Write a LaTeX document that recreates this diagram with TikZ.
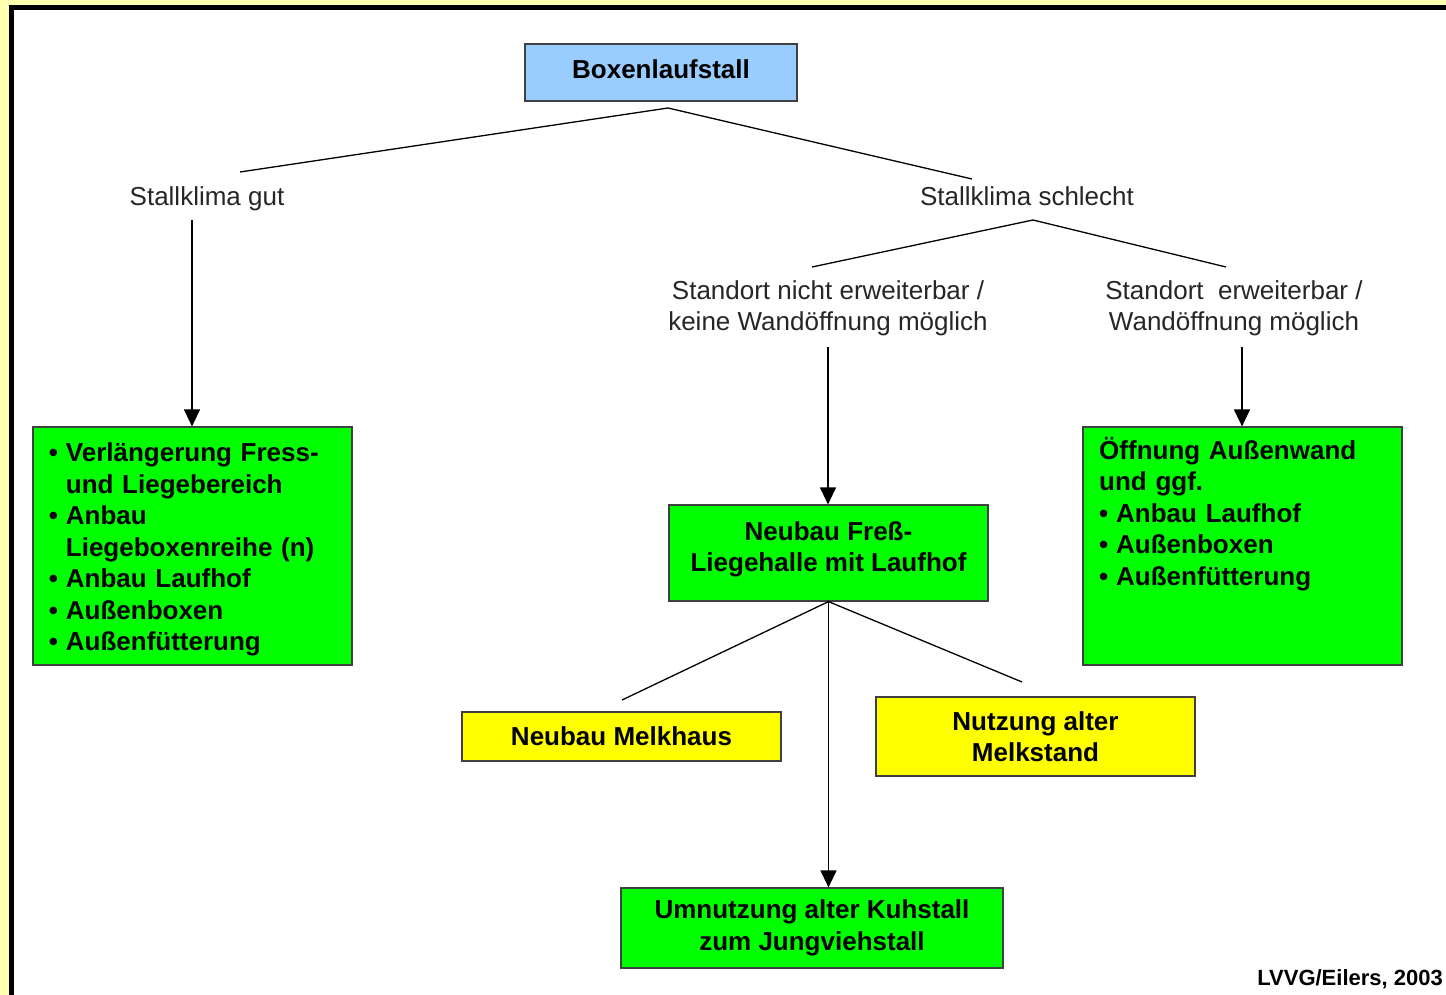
\documentclass[tikz,border=0pt]{standalone}
\usepackage{fontspec}
\setmainfont{Liberation Sans}
\usetikzlibrary{arrows.meta}
\definecolor{hellblau}{RGB}{153,204,255}
\definecolor{gruen}{RGB}{0,255,0}
\definecolor{gelb}{RGB}{255,255,0}
\definecolor{rand}{RGB}{255,255,178}
\newlength{\bulw}
\setlength{\bulw}{17pt}
\newcommand{\pkt}{\par\hangindent=\bulw\hangafter=1\noindent\makebox[\bulw][l]{\textbullet}}
\tikzset{
  box/.style={draw=black!75,line width=1.2pt,inner sep=0pt,align=center,font=\fontsize{26}{31.5}\selectfont\bfseries},
  lbl/.style={text=black!85,align=center,inner sep=0pt,font=\fontsize{26}{31.5}\selectfont},
  liste/.style={anchor=north west,inner sep=0pt,text width=300pt,align=left,font=\fontsize{26}{31.5}\selectfont\bfseries},
  pfeil/.style={-{Triangle[width=16pt,length=17pt]}},
  linie/.style={line width=1.3pt}
}
\begin{document}
\begin{tikzpicture}[x=1pt,y=-1pt]
\useasboundingbox (0,0) rectangle (1446,995);
\fill[rand] (0,0) rectangle (1446,995);
\begin{scope}
\clip (0,0) rectangle (1446,995);
\draw[line width=5pt,fill=white] (11.5,7.5) rectangle (1470,1020);
\end{scope}
\coordinate (boxJ) at (668,108);
\coordinate (gutE) at (240,172);
\coordinate (schlE) at (972,179);
\coordinate (schlJ) at (1033,220);
\coordinate (nichtE) at (812,267);
\coordinate (erwE) at (1226,267);
\coordinate (gutA) at (192,220);
\coordinate (nichtA) at (828,347);
\coordinate (erwA) at (1242,347);
\coordinate (melkE) at (622,700);
\coordinate (altE) at (1022,682);
\node[box,fill=hellblau,minimum width=272pt,minimum height=57pt,text depth=6pt] (laufstall) at (661,72.5) {Boxenlaufstall};
\node[lbl] (gutlbl) at (207,199) {Stallklima gut};
\node[lbl] (schlbl) at (1027,196) {Stallklima schlecht};
\node[lbl] (nichtlbl) at (828,308.5) {Standort nicht erweiterbar /\\keine Wandöffnung möglich};
\node[lbl] (erwlbl) at (1234,308.5) {Standort\ \ erweiterbar /\\Wandöffnung möglich};
\node[box,fill=gruen,minimum width=319pt,minimum height=238pt] (gut) at (192.5,546) {};
\node[liste] (guttext) at (48.7,430) {\pkt Verlängerung Fress-\newline und Liegebereich \pkt Anbau\newline Liegeboxenreihe (n) \pkt Anbau Laufhof \pkt Außenboxen \pkt Außenfütterung};
\node[box,fill=gruen,minimum width=319pt,minimum height=238pt] (erw) at (1242.5,546) {};
\node[liste] (erwtext) at (1099,437) {\noindent Öffnung Außenwand\newline und ggf. \pkt Anbau Laufhof \pkt Außenboxen \pkt Außenfütterung};
\node[box,fill=gruen,minimum width=319pt,minimum height=96pt,text depth=13pt] (neubau) at (828.5,553) {Neubau Freß-\\Liegehalle mit Laufhof};
\node[box,fill=gelb,minimum width=319pt,minimum height=49pt] (melkhaus) at (621.5,736.5) {Neubau Melkhaus};
\node[box,fill=gelb,minimum width=319pt,minimum height=79pt] (altstand) at (1035.5,736.5) {Nutzung alter\\Melkstand};
\node[box,fill=gruen,minimum width=382pt,minimum height=80pt] (umnutzung) at (812,928) {Umnutzung alter Kuhstall\\zum Jungviehstall};
\node[anchor=east,inner sep=0pt,font=\fontsize{22}{26}\selectfont\bfseries] (quelle) at (1443,979) {LVVG/Eilers, 2003};
\draw[linie] (gutE) -- (boxJ) -- (schlE);
\draw[linie] (nichtE) -- (schlJ) -- (erwE);
\draw[linie,pfeil] (gutA) -- (gutA |- gut.north);
\draw[linie,pfeil] (nichtA) -- (nichtA |- neubau.north);
\draw[linie,pfeil] (erwA) -- (erwA |- erw.north);
\draw[linie] (melkE) -- (neubau.south) -- (altE);
\draw[linie,pfeil] (neubau.south) -- (neubau.south |- umnutzung.north);
\end{tikzpicture}
\end{document}
